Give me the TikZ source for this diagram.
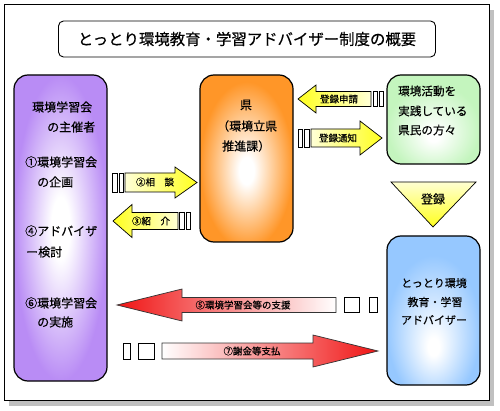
\documentclass[tikz,border=0pt]{standalone}
\usepackage{fontspec}
\setmainfont{Noto Sans CJK JP}[FakeBold=0.4]
\definecolor{purp}{RGB}{185,140,245}
\definecolor{orng}{RGB}{255,150,40}
\definecolor{grn}{RGB}{196,245,190}
\definecolor{blu}{RGB}{150,200,255}
\definecolor{yel}{RGB}{255,255,30}
\definecolor{paleyel}{RGB}{255,255,215}
\definecolor{redd}{RGB}{240,20,20}
\definecolor{shadowgray}{RGB}{192,192,192}
\pgfdeclareradialshading{purpshade}{\pgfpoint{0bp}{0bp}}{color(0bp)=(white);color(5bp)=(white);color(25bp)=(purp);color(50bp)=(purp)}
\pgfdeclareradialshading{orngshade}{\pgfpoint{0bp}{-4bp}}{color(0bp)=(white);color(4bp)=(white);color(25bp)=(orng);color(50bp)=(orng)}
\pgfdeclareradialshading{grnshade}{\pgfpoint{0bp}{-10bp}}{color(0bp)=(white);color(3bp)=(white);color(25bp)=(grn);color(50bp)=(grn)}
\pgfdeclareradialshading{blushade}{\pgfpoint{0bp}{-13bp}}{color(0bp)=(white);color(3bp)=(white);color(25bp)=(blu);color(50bp)=(blu)}
% block arrow: tip x, centre y, head base x, tail x, shaft half, head half, style
\newcommand\blockarrow[7]{\path[#7] ({#1},{#2}) -- ({#3},{#2-#6}) -- ({#3},{#2-#5}) -- ({#4},{#2-#5}) -- ({#4},{#2+#5}) -- ({#3},{#2+#5}) -- ({#3},{#2+#6}) -- cycle;}
\begin{document}
\begin{tikzpicture}[x=1pt,y=-1pt,
  box/.style={draw=black, line width=1.2pt, rounded corners=14pt, inner sep=0pt, minimum width=93pt, shade},
  lbl/.style={inner sep=0pt, font=\fontsize{12}{12}\selectfont, anchor=west},
  clbl/.style={inner sep=0pt, font=\fontsize{11}{11}\selectfont},
  albl/.style={inner sep=0pt, font=\fontsize{9.5}{9.5}\selectfont},
  bar/.style={draw=black, line width=0.7pt, fill=white},
  yarrow/.style={draw=black, line width=0.7pt},
  rarrow/.style={draw=black!80, line width=0.7pt}]
\useasboundingbox (0,0) rectangle (500,411);
% frame with shadow
\fill[shadowgray] (9,10) rectangle (494,406);
\draw[line width=1pt, fill=white] (4,5) rectangle (489,400);
% title
\node[draw, line width=0.9pt, rounded corners=5pt, minimum width=377pt, minimum height=36pt, inner sep=0pt, fill=white, font=\fontsize{15.4}{15.4}\selectfont] (title) at (247,39) {とっとり環境教育・学習アドバイザー制度の概要};
% boxes
\node[box, shading=purpshade, minimum height=306pt] (org) at (60.5,228) {};
\node[box, shading=orngshade, minimum height=167pt] (pref) at (246.5,158.5) {};
\node[box, shading=grnshade, minimum height=89pt] (citizen) at (433.5,119.5) {};
\node[box, shading=blushade, minimum height=149pt] (adv) at (433.5,310.5) {};
% organiser text
\node[lbl] (o1) at (32,107) {環境学習会};
\node[lbl] (o2) at (47,127) {の主催者};
\node[lbl] (o3) at (25,162) {①環境学習会};
\node[lbl] (o4) at (37,182) {の企画};
\node[lbl] (o5) at (25,231) {④アドバイザ};
\node[lbl] (o6) at (26,252) {ー検討};
\node[lbl] (o7) at (25,303) {⑥環境学習会};
\node[lbl] (o8) at (37,322) {の実施};
% prefecture text
\node[lbl, anchor=center] (p1) at (246,105) {県};
\node[lbl] (p2) at (217,126) {（環境立県};
\node[lbl] (p3) at (222,146) {推進課）};
% citizen text
\node[lbl, font=\fontsize{11.6}{11.6}\selectfont] (c1) at (398,91) {環境活動を};
\node[lbl, font=\fontsize{11.6}{11.6}\selectfont] (c2) at (398,111) {実践している};
\node[lbl, font=\fontsize{11.6}{11.6}\selectfont] (c3) at (398,130) {県民の方々};
% adviser text
\node[clbl] (a1) at (434,283) {とっとり環境};
\node[clbl] (a2) at (435,302) {教育・学習};
\node[clbl] (a3) at (434,320) {アドバイザー};
% registration triangle
\path[draw=black, line width=0.7pt, top color=white!80!yel, bottom color=yel] (391,182) -- (476,182) -- (433,227) -- cycle;
\node[inner sep=0pt, font=\fontsize{12}{12}\selectfont] (reg) at (433,199) {登録};
% yellow arrows
\blockarrow{298}{99}{316}{371}{7.5}{14}{yarrow, left color=yel, right color=paleyel}
\draw[bar] (373,91.5) rectangle (377,106.5);
\draw[bar] (379,91.5) rectangle (383,106.5);
\node[albl] (l1) at (339,99) {登録申請};
\blockarrow{382}{138}{360}{311}{9}{17}{yarrow, left color=paleyel, right color=yel}
\draw[bar] (298,129) rectangle (302,147);
\draw[bar] (304,129) rectangle (309,147);
\node[albl] (l2) at (338,138) {登録通知};
\blockarrow{197}{182.5}{175}{125}{9.5}{15.5}{yarrow, left color=paleyel, right color=yel}
\draw[bar] (112,173) rectangle (117,192);
\draw[bar] (119,173) rectangle (123,192);
\node[albl] (l3) at (155,182) {②相　談};
\blockarrow{113}{221}{132}{178}{8.5}{16.5}{yarrow, left color=yel, right color=paleyel}
\draw[bar] (179,212.5) rectangle (184,229.5);
\draw[bar] (186,212.5) rectangle (190,229.5);
\node[albl] (l4) at (151,221) {③紹　介};
% red arrows
\blockarrow{117}{305}{182}{336}{7.5}{16}{rarrow, left color=redd, right color=white}
\draw[bar] (344,297.5) rectangle (359,312.5);
\draw[bar] (369,297.5) rectangle (377,312.5);
\node[albl] (l5) at (243,305) {⑤環境学習会等の支援};
\blockarrow{378}{351}{313}{162}{8}{16}{rarrow, left color=white, right color=redd}
\draw[bar] (123,343) rectangle (130,359);
\draw[bar] (138,343) rectangle (154,359);
\node[albl] (l6) at (252,351) {⑦謝金等支払};
\end{tikzpicture}
\end{document}
